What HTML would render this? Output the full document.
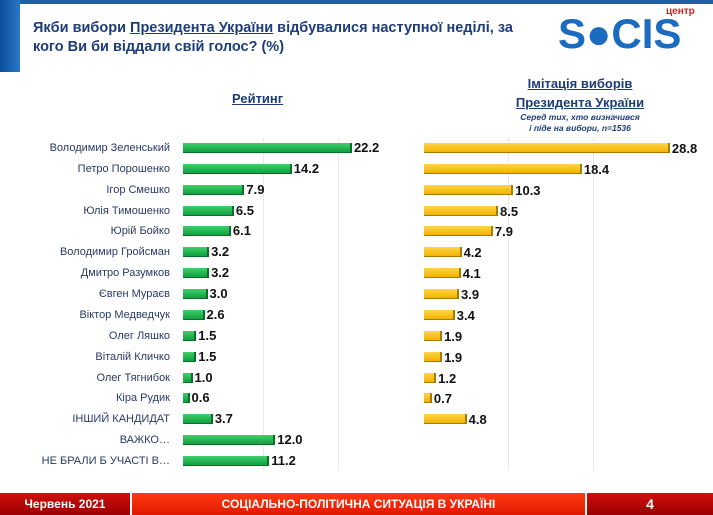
<!DOCTYPE html>
<html><head><meta charset="utf-8"><style>
body{margin:0;width:713px;height:515px;background:#fff;position:relative;overflow:hidden;font-family:"Liberation Sans",sans-serif}
.a{position:absolute}
.lab{position:absolute;font-size:11px;color:#2a3a66;text-align:right;width:170px;left:0}
.v{position:absolute;font-size:13px;font-weight:bold;color:#111}
.g{position:absolute;height:9px;background:linear-gradient(#3fcf6a,#12a040);border-right:2px solid #0b6e2a;border-bottom:1px solid #0b6e2a}
.y{position:absolute;height:9px;background:linear-gradient(#ffd44a,#f2b300);border-right:2px solid #a77a00;border-bottom:1px solid #a77a00}
</style></head><body>
<div class="a" style="left:0;top:0;width:713px;height:4px;background:#1f5fa8"></div>
<div class="a" style="left:0;top:0;width:20px;height:72px;background:linear-gradient(90deg,#0b4e9a,#2a78c8)"></div>
<div class="a" style="left:33px;top:19px;font-size:14.5px;font-weight:bold;color:#1d3c7a;line-height:19px">Якби вибори <u>Президента України</u> відбувалися наступної неділі, за<br>кого Ви би віддали свій голос? (%)</div>
<div class="a" style="left:666px;top:6px;font-size:10px;font-weight:bold;color:#d61f1f">центр</div>
<div class="a" style="left:558px;top:12px;font-size:42px;font-weight:bold;color:#1b6cc0;line-height:44px">S●CIS</div>
<div class="a" style="left:232px;top:91px;font-size:13px;font-weight:bold;color:#1d3c7a;text-decoration:underline">Рейтинг</div>
<div class="a" style="left:480px;top:74px;width:200px;text-align:center;font-size:13px;font-weight:bold;color:#1d3c7a;text-decoration:underline;line-height:19px">Імітація виборів<br>Президента України</div>
<div class="a" style="left:480px;top:112px;width:200px;text-align:center;font-size:8.5px;font-weight:bold;font-style:italic;color:#1d3c7a;line-height:11px">Серед тих, хто визначився<br>і піде на вибори, n=1536</div>
<div class="a" style="left:263px;top:138px;width:1px;height:332px;background:#e4e8ef"></div>
<div class="a" style="left:338px;top:138px;width:1px;height:332px;background:#e4e8ef"></div>
<div class="a" style="left:508px;top:138px;width:1px;height:332px;background:#e4e8ef"></div>
<div class="a" style="left:593px;top:138px;width:1px;height:332px;background:#e4e8ef"></div>
<div id="c"></div>
<div class="a" style="left:0;top:493px;width:130px;height:22px;background:linear-gradient(#d01010,#9a0000);color:#fff;font-weight:bold;font-size:12px;text-align:center;line-height:22px">Червень 2021</div>
<div class="a" style="left:132px;top:493px;width:453px;height:22px;background:linear-gradient(#ff3a10,#e01800);color:#fff;font-weight:bold;font-size:12px;text-align:center;line-height:22px">СОЦІАЛЬНО-ПОЛІТИЧНА СИТУАЦІЯ В УКРАЇНІ</div>
<div class="a" style="left:587px;top:493px;width:126px;height:22px;background:linear-gradient(#d01010,#9a0000);color:#fff;font-weight:bold;font-size:14px;text-align:center;line-height:22px">4</div>
<script>
var n=["Володимир Зеленський","Петро Порошенко","Ігор Смешко","Юлія Тимошенко","Юрій Бойко","Володимир Гройсман","Дмитро Разумков","Євген Мураєв","Віктор Медведчук","Олег Ляшко","Віталій Кличко","Олег Тягнибок","Кіра Рудик","ІНШИЙ КАНДИДАТ","ВАЖКО…","НЕ БРАЛИ Б УЧАСТІ В…"];
var a=["22.2","14.2","7.9","6.5","6.1","3.2","3.2","3.0","2.6","1.5","1.5","1.0","0.6","3.7","12.0","11.2"];
var b=["28.8","18.4","10.3","8.5","7.9","4.2","4.1","3.9","3.4","1.9","1.9","1.2","0.7","4.8"];
var h="";
for(var i=0;i<16;i++){var y=148+i*20.87;
h+='<div class="lab" style="top:'+(y-6)+'px">'+n[i]+'</div>';
var w=a[i]*7.52;h+='<div class="g" style="left:183px;top:'+(y-5)+'px;width:'+w+'px"></div><div class="v" style="left:'+(187+w)+'px;top:'+(y-8)+'px">'+a[i]+'</div>';
if(i<14){var w2=b[i]*8.47;h+='<div class="y" style="left:424px;top:'+(y-5)+'px;width:'+w2+'px"></div><div class="v" style="left:'+(428+w2)+'px;top:'+(y-7)+'px">'+b[i]+'</div>';}}
document.getElementById("c").innerHTML=h;
</script>
</body></html>
